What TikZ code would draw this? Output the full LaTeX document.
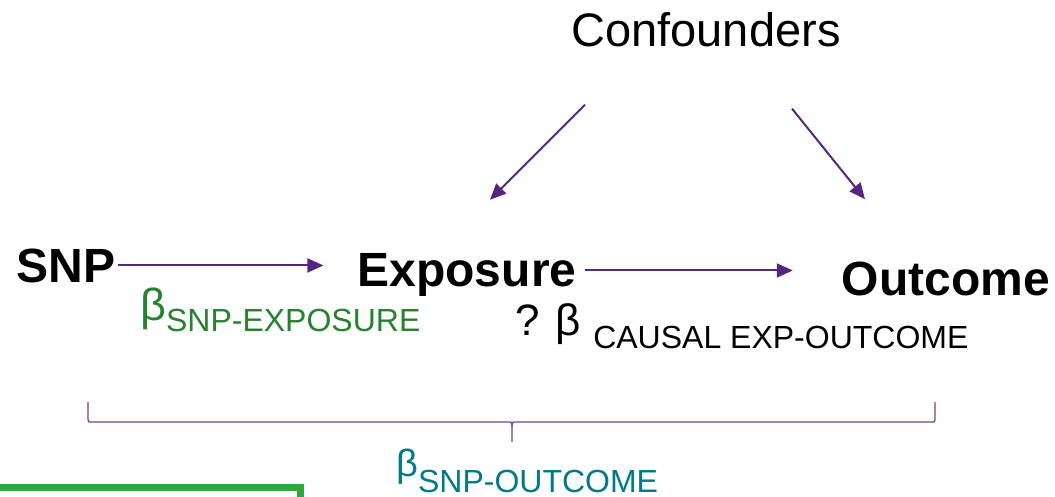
\documentclass[tikz,border=0pt]{standalone}
\usepackage{fontspec}
\setmainfont{Liberation Sans}
\usepackage{xcolor}
\usetikzlibrary{arrows.meta}
\definecolor{mrpurple}{RGB}{84,38,128}
\definecolor{mrgreen}{RGB}{38,130,46}
\definecolor{mrteal}{RGB}{0,122,138}
\definecolor{boxgreen}{RGB}{46,168,56}
\newcommand\betasub[3]{{\fontsize{#1}{#1}\selectfont β}\raisebox{-#2}{\fontsize{32}{32}\selectfont #3}}
\tikzset{
  mr variable/.style={
    inner sep=0pt,
    anchor=base,
    font=\fontsize{48}{56}\selectfont\bfseries,
  },
  mr plain/.style={
    inner sep=0pt,
    anchor=base,
    font=\fontsize{47}{56}\selectfont,
  },
  mr beta/.style={inner sep=0pt, anchor=base west},
  mr arrow/.style={-{Triangle[length=16pt,width=14pt]}, line width=2pt, draw=mrpurple},
  mr brace/.style={line width=1.3pt, draw=mrpurple!85},
  mr box/.style={line width=7pt, draw=boxgreen},
}

\begin{document}
\begin{tikzpicture}[x=1pt,y=-1pt]
  \useasboundingbox (0,0) rectangle (1055,497);
  \clip (0,0) rectangle (1055,497);

  \node[mr plain] (conf) at (706,47) {Confounders};
  \node[mr variable] (snp) at (66,282) {SNP};
  \node[mr variable] (exp) at (467,286) {Exposure};
  \node[mr variable] (out) at (946,295) {Outcome};

  \draw[mr arrow, shorten <=2pt, shorten >=34pt] (snp.east) -- (snp.east -| exp.west);
  \draw[mr arrow, shorten <=8pt, shorten >=49pt] ([yshift=4pt]exp.east) -- ([yshift=4pt]exp.east -| out.west);
  \draw[mr arrow] ([shift={(-121,57)}]conf.south) -- ([shift={(23,-53)}]exp.north);
  \draw[mr arrow] ([shift={(86,61)}]conf.south) -- ([shift={(-81,-62)}]out.north);

  \node[mr beta, text=mrgreen] (bsnpexp) at (140,320) {\betasub{45}{11pt}{SNP-EXPOSURE}};
  \node[mr beta] (bcausal) at (515,335)
    {{\fontsize{44}{44}\selectfont ? β}\hspace{12pt}\raisebox{-13pt}{\fontsize{32}{32}\selectfont CAUSAL EXP-OUTCOME}};
  \node[mr beta, text=mrteal] (bsnpout) at (396,476) {\betasub{38}{16pt}{SNP-OUTCOME}};

  % brace under the three variables
  \coordinate (bracel) at (88,402);
  \coordinate (bracer) at (935,402);
  \coordinate (bracetip) at (512,442);
  \draw[mr brace] (bracel) -- (88,419) .. controls (88,422) .. (92,422)
    -- (508,422) .. controls (512,422) .. (512,427) -- (bracetip);
  \draw[mr brace] (bracer) -- (935,419) .. controls (935,422) .. (931,422)
    -- (516,422) .. controls (512,422) .. (512,427);

  \draw[mr box] (-20,487) rectangle (300,560);
\end{tikzpicture}
\end{document}
